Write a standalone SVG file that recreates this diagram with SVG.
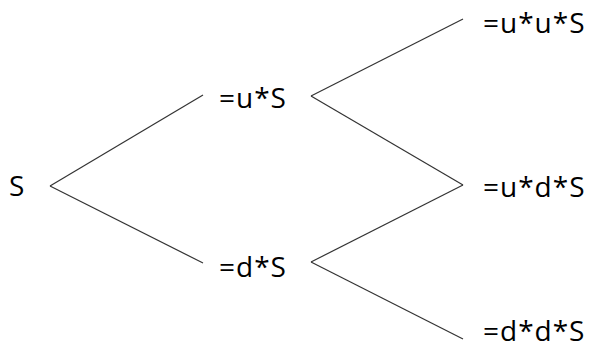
<svg xmlns="http://www.w3.org/2000/svg" width="597" height="355" viewBox="0 0 597 355">
<style>
.t{font-family:"Open Sans","Liberation Sans",sans-serif;font-size:28px;letter-spacing:1px;fill:#000}
.c line{stroke:#333;stroke-width:1.2}
</style>
<rect width="597" height="355" fill="#fff"/>
<g class="c" id="connectors">
<line x1="50" y1="186" x2="203" y2="95"/>
<line x1="50" y1="186" x2="203" y2="263"/>
<line x1="311" y1="96" x2="463" y2="19"/>
<line x1="311" y1="96" x2="463" y2="185"/>
<line x1="311" y1="262" x2="463" y2="185"/>
<line x1="311" y1="262" x2="463" y2="339"/>
</g>
<g id="n0"><text class="t" x="9" y="196">S</text></g>
<g id="n1"><text class="t" x="219" y="108">=u*S</text></g>
<g id="n2"><text class="t" x="219" y="277">=d*S</text></g>
<g id="n3"><text class="t" x="483" y="33">=u*u*S</text></g>
<g id="n4"><text class="t" x="483" y="197">=u*d*S</text></g>
<g id="n5"><text class="t" x="483" y="341">=d*d*S</text></g>
</svg>
